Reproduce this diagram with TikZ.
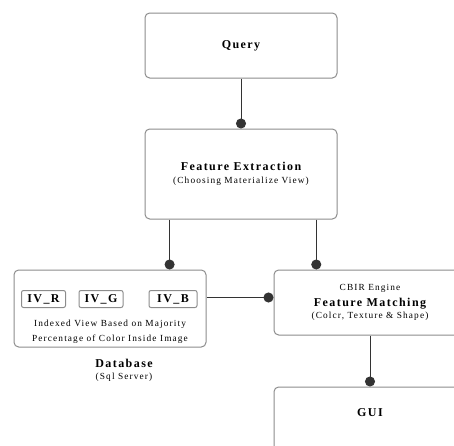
\documentclass[tikz,border=0pt]{standalone}
\usepackage{fontspec}
\setmainfont{Liberation Serif}
\newfontfamily\wideserif[LetterSpace=12]{Liberation Serif}
\usetikzlibrary{arrows.meta,calc}

% text styles
\newcommand{\head}[1]{{\wideserif\bfseries\fontsize{9}{11}\selectfont #1}}
\newcommand{\note}[1]{{\wideserif\fontsize{7}{9}\selectfont #1}}

\tikzset{
    box/.style={draw=gray!90, line width=0.75pt, rounded corners=3.5pt,
                minimum width=144pt, align=center, inner sep=0pt},
    ivbox/.style={draw=gray!90, line width=0.75pt, rounded corners=1.5pt,
                  minimum height=12.75pt, inner sep=0pt},
    link/.style={draw=black!80, line width=0.75pt, -{Circle[length=7.5pt]}}
}

\begin{document}
\begin{tikzpicture}[x=0.75pt, y=-0.75pt]
        \useasboundingbox (0,0) rectangle (454,446);
        \clip (0,0) rectangle (454,446);

        % main blocks
        \node[box, minimum height=48.75pt] (query) at (241,45.5) {\head{Query}};
        \node[box, minimum height=67.5pt] (extract) at (241,174)
            {\head{Feature Extraction}\\[-2pt] \note{(Choosing Materialize View)}};
        \node[box, minimum height=57.75pt] (db) at (110,308.5) {};
        \node[box, minimum height=48.75pt] (match) at (370,302.5)
            {\note{CBIR Engine}\\[0pt] \head{Feature Matching}\\[-3pt] \note{(Colcr, Texture \& Shape)}};
        \node[box, minimum height=48.75pt,
              label={[anchor=center, yshift=-19.5pt]north:\head{GUI}}] (gui) at (370,419.5) {};

        % indexed views inside the database
        \node[ivbox, minimum width=33pt] (ivr) at (43.5,299) {\head{IV\_R}};
        \node[ivbox, minimum width=33pt] (ivg) at (101,299) {\head{IV\_G}};
        \node[ivbox, minimum width=36pt] (ivb) at (173,299) {\head{IV\_B}};
        \node[align=center, inner sep=0pt] (dbtext) at (110,331.5)
            {\note{Indexed View Based on Majority}\\[-1pt] \note{Percentage of Color Inside Image}};

        % database caption
        \node[align=center, inner sep=0pt] (dbname) at (124,370.5)
            {\head{Database}\\[-3pt] \note{(Sql Server)}};

        % connectors
        \coordinate (xl) at ($(extract.south west)!0.13!(extract.south east)$);
        \coordinate (xr) at ($(extract.south west)!0.89!(extract.south east)$);
        \coordinate (mw) at ($(match.west)+(0,-5)$);

        \draw[link] (query) -- (extract);
        \draw[link] (xl) -- (xl |- db.north);
        \draw[link] (xr) -- (xr |- match.north);
        \draw[link] (mw -| db.east) -- (mw);
        \draw[link] (match) -- (gui);
\end{tikzpicture}
\end{document}
